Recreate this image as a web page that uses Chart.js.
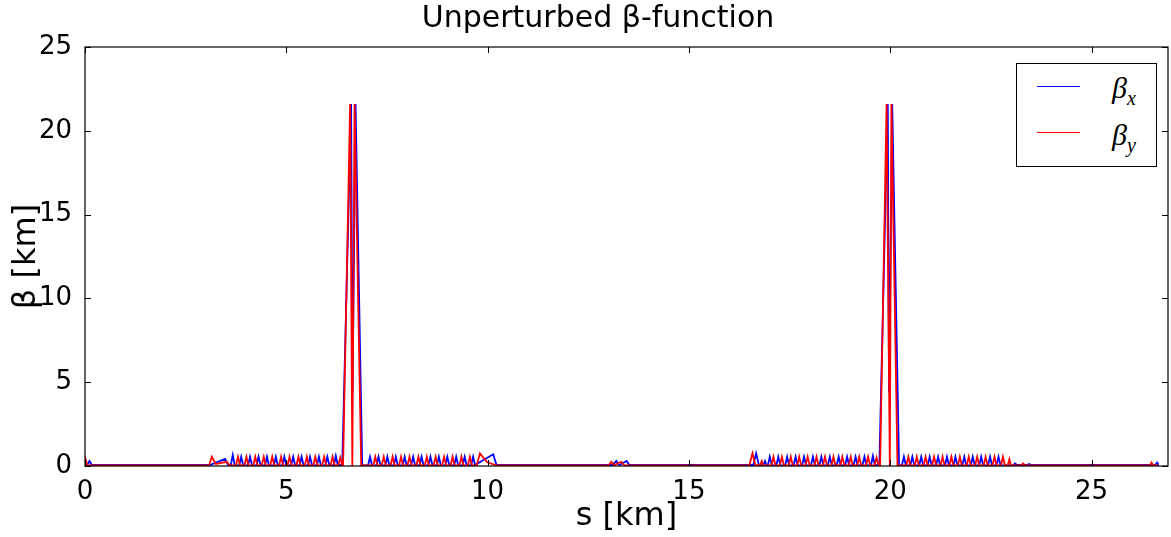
<!DOCTYPE html>
<html>
<head>
<meta charset="utf-8">
<title>Unperturbed beta-function</title>
<script src="https://cdn.jsdelivr.net/npm/chart.js@4.4.1/dist/chart.umd.min.js"></script>
<style>
  html, body { margin: 0; padding: 0; background: #fff; }
  #wrap { position: relative; width: 1171px; height: 537px; }
  #legend { position: absolute; left: 1016px; top: 63px; width: 141px; height: 104px;
            border: 1px solid #000; background: #fff; box-sizing: border-box; }
  .key { position: absolute; left: 20px; width: 43px; height: 0; border-top: 1.5px solid; }
  .lab { position: absolute; left: 95px; font: italic 30px "Liberation Serif", serif; line-height: 1; color: #000; }
  .lab sub { font-size: 20px; }
</style>
</head>
<body>
<div id="wrap">
  <canvas id="betaChart"></canvas>
  <div id="legend">
    <div class="key" style="top:22px; border-color:#0000ff"></div>
    <div class="lab" style="top:9px">β<sub>x</sub></div>
    <div class="key" style="top:68px; border-color:#ff0000"></div>
    <div class="lab" style="top:56px">β<sub>y</sub></div>
  </div>
</div>
<script>
// [s in km, beta in km]
const betaX = [
  [0, 0.1], [0.05, 0.04], [0.11, 0.3], [0.17, 0.06], [3.1, 0.06], [3.48, 0.42], [3.56, 0.03],
  [3.62, 0.03], [3.67, 0.65], [3.72, 0.03], [3.83, 0.03], [3.88, 0.55], [3.93, 0.03],
  [4.05, 0.03], [4.1, 0.55], [4.15, 0.03], [4.26, 0.03], [4.31, 0.55], [4.36, 0.03],
  [4.47, 0.03], [4.52, 0.55], [4.57, 0.03], [4.69, 0.03], [4.74, 0.55], [4.79, 0.03],
  [4.9, 0.03], [4.95, 0.55], [5.0, 0.03], [5.12, 0.03], [5.17, 0.55], [5.22, 0.03],
  [5.33, 0.03], [5.38, 0.55], [5.43, 0.03], [5.54, 0.03], [5.59, 0.55], [5.64, 0.03],
  [5.76, 0.03], [5.81, 0.55], [5.86, 0.03], [5.97, 0.03], [6.02, 0.55], [6.07, 0.03],
  [6.18, 0.03], [6.23, 0.6], [6.28, 0.03],
  [6.39, 0.1], [6.61, 21.6], [6.645, 4.4], [6.72, 21.6], [6.885, 0.05],
  [7.03, 0.03], [7.08, 0.55], [7.13, 0.03], [7.24, 0.03], [7.29, 0.55], [7.34, 0.03],
  [7.46, 0.03], [7.51, 0.55], [7.56, 0.03], [7.67, 0.03], [7.72, 0.55], [7.77, 0.03],
  [7.89, 0.03], [7.94, 0.55], [7.99, 0.03], [8.1, 0.03], [8.15, 0.55], [8.2, 0.03],
  [8.31, 0.03], [8.36, 0.55], [8.41, 0.03], [8.53, 0.03], [8.58, 0.55], [8.63, 0.03],
  [8.74, 0.03], [8.79, 0.55], [8.84, 0.03], [8.95, 0.03], [9.0, 0.55], [9.05, 0.03],
  [9.17, 0.03], [9.22, 0.55], [9.27, 0.03], [9.38, 0.03], [9.43, 0.55], [9.48, 0.03],
  [9.59, 0.03], [9.64, 0.55], [9.69, 0.03],
  [9.75, 0.15], [10.14, 0.7], [10.22, 0.06],
  [13.1, 0.06], [13.2, 0.3], [13.27, 0.05], [13.45, 0.3], [13.52, 0.06],
  [16.6, 0.06], [16.67, 0.76], [16.74, 0.05], [16.85, 0.05], [16.89, 0.3], [16.93, 0.03],
  [16.96, 0.03], [17.01, 0.55], [17.06, 0.03], [17.17, 0.03], [17.22, 0.55], [17.27, 0.03],
  [17.39, 0.03], [17.44, 0.55], [17.49, 0.03], [17.6, 0.03], [17.65, 0.55], [17.7, 0.03],
  [17.81, 0.03], [17.86, 0.55], [17.91, 0.03], [18.03, 0.03], [18.08, 0.55], [18.13, 0.03],
  [18.24, 0.03], [18.29, 0.55], [18.34, 0.03], [18.45, 0.03], [18.5, 0.55], [18.55, 0.03],
  [18.67, 0.03], [18.72, 0.55], [18.77, 0.03], [18.88, 0.03], [18.93, 0.55], [18.98, 0.03],
  [19.09, 0.03], [19.14, 0.55], [19.19, 0.03], [19.31, 0.03], [19.36, 0.55], [19.41, 0.03],
  [19.52, 0.03], [19.57, 0.6], [19.62, 0.03],
  [19.73, 0.1], [19.94, 21.6], [19.97, 4.4], [20.05, 21.6], [20.22, 0.05],
  [20.29, 0.03], [20.34, 0.55], [20.39, 0.03], [20.5, 0.03], [20.55, 0.55], [20.6, 0.03],
  [20.72, 0.03], [20.77, 0.55], [20.82, 0.03], [20.93, 0.03], [20.98, 0.55], [21.03, 0.03],
  [21.14, 0.03], [21.19, 0.55], [21.24, 0.03], [21.36, 0.03], [21.41, 0.55], [21.46, 0.03],
  [21.57, 0.03], [21.62, 0.55], [21.67, 0.03], [21.79, 0.03], [21.84, 0.55], [21.89, 0.03],
  [22.0, 0.03], [22.05, 0.55], [22.1, 0.03], [22.21, 0.03], [22.26, 0.55], [22.31, 0.03],
  [22.43, 0.03], [22.48, 0.55], [22.53, 0.03], [22.64, 0.03], [22.69, 0.55], [22.74, 0.03],
  [23.05, 0.03], [23.1, 0.15], [23.15, 0.06], [23.4, 0.06], [23.45, 0.12], [23.5, 0.06],
  [26.58, 0.06], [26.63, 0.2], [26.65, 0.1]
];

const betaY = [
  [0, 0.3], [0.02, 0.36], [0.06, 0.03], [3.08, 0.03], [3.15, 0.55], [3.25, 0.12], [3.52, 0.25], [3.6, 0.03],
  [3.75, 0.03], [3.8, 0.55], [3.85, 0.03], [3.96, 0.03], [4.01, 0.55], [4.06, 0.03],
  [4.18, 0.03], [4.23, 0.55], [4.28, 0.03], [4.39, 0.03], [4.44, 0.55], [4.49, 0.03],
  [4.6, 0.03], [4.65, 0.55], [4.7, 0.03], [4.82, 0.03], [4.87, 0.55], [4.92, 0.03],
  [5.03, 0.03], [5.08, 0.55], [5.13, 0.03], [5.25, 0.03], [5.3, 0.55], [5.35, 0.03],
  [5.46, 0.03], [5.51, 0.55], [5.56, 0.03], [5.67, 0.03], [5.72, 0.55], [5.77, 0.03],
  [5.89, 0.03], [5.94, 0.55], [5.99, 0.03], [6.1, 0.03], [6.15, 0.55], [6.2, 0.03],
  [6.29, 0.03], [6.34, 0.5], [6.39, 0.03],
  [6.41, 0.05], [6.585, 21.6], [6.64, 0], [6.695, 21.6], [6.86, 0.05],
  [7.16, 0.03], [7.21, 0.55], [7.26, 0.03], [7.37, 0.03], [7.42, 0.55], [7.47, 0.03],
  [7.59, 0.03], [7.64, 0.55], [7.69, 0.03], [7.8, 0.03], [7.85, 0.55], [7.9, 0.03],
  [8.01, 0.03], [8.06, 0.55], [8.11, 0.03], [8.23, 0.03], [8.28, 0.55], [8.33, 0.03],
  [8.44, 0.03], [8.49, 0.55], [8.54, 0.03], [8.66, 0.03], [8.71, 0.55], [8.76, 0.03],
  [8.87, 0.03], [8.92, 0.55], [8.97, 0.03], [9.08, 0.03], [9.13, 0.55], [9.18, 0.03],
  [9.3, 0.03], [9.35, 0.55], [9.4, 0.03], [9.51, 0.03], [9.56, 0.55], [9.61, 0.03],
  [9.73, 0.05], [9.81, 0.75], [9.99, 0.22], [10.23, 0.03],
  [13.0, 0.03], [13.07, 0.25], [13.15, 0.05], [13.32, 0.25], [13.4, 0.03],
  [16.5, 0.03], [16.58, 0.76], [16.65, 0.05], [16.77, 0.05], [16.81, 0.3], [16.85, 0.03],
  [17.05, 0.03], [17.1, 0.55], [17.15, 0.03], [17.26, 0.03], [17.31, 0.55], [17.36, 0.03],
  [17.48, 0.03], [17.53, 0.55], [17.58, 0.03], [17.69, 0.03], [17.74, 0.55], [17.79, 0.03],
  [17.9, 0.03], [17.95, 0.55], [18.0, 0.03], [18.12, 0.03], [18.17, 0.55], [18.22, 0.03],
  [18.33, 0.03], [18.38, 0.55], [18.43, 0.03], [18.54, 0.03], [18.59, 0.55], [18.64, 0.03],
  [18.76, 0.03], [18.81, 0.55], [18.86, 0.03], [18.97, 0.03], [19.02, 0.55], [19.07, 0.03],
  [19.18, 0.03], [19.23, 0.55], [19.28, 0.03], [19.4, 0.03], [19.45, 0.55], [19.5, 0.03],
  [19.61, 0.03], [19.66, 0.5], [19.71, 0.03],
  [19.75, 0.05], [19.91, 21.6], [19.99, 0], [20.03, 21.6], [20.18, 0.05],
  [20.4, 0.03], [20.45, 0.55], [20.5, 0.03], [20.61, 0.03], [20.66, 0.55], [20.71, 0.03],
  [20.83, 0.03], [20.88, 0.55], [20.93, 0.03], [21.04, 0.03], [21.09, 0.55], [21.14, 0.03],
  [21.25, 0.03], [21.3, 0.55], [21.35, 0.03], [21.47, 0.03], [21.52, 0.55], [21.57, 0.03],
  [21.68, 0.03], [21.73, 0.55], [21.78, 0.03], [21.9, 0.03], [21.95, 0.55], [22.0, 0.03],
  [22.11, 0.03], [22.16, 0.55], [22.21, 0.03], [22.32, 0.03], [22.37, 0.55], [22.42, 0.03],
  [22.54, 0.03], [22.59, 0.55], [22.64, 0.03], [22.75, 0.03], [22.8, 0.55], [22.85, 0.03],
  [22.92, 0.03], [22.96, 0.4], [23.0, 0.03], [23.25, 0.03], [23.3, 0.15], [23.35, 0.03],
  [26.45, 0.03], [26.49, 0.2], [26.53, 0.03], [26.65, 0.05]
];

const sTicks = [0, 5, 10, 15, 20, 25];
const betaTicks = [0, 5, 10, 15, 20, 25];

Chart.defaults.font.family = "'DejaVu Sans', sans-serif";
Chart.defaults.color = "#000";

// matplotlib style frame with inward ticks on all four sides
const frame = {
  id: "frame",
  afterDatasetsDraw(chart) {
    const { ctx, chartArea: a, scales: { x, y } } = chart;
    ctx.save();
    ctx.strokeStyle = "#000";
    ctx.lineWidth = 1;
    ctx.beginPath();
    x.ticks.forEach((t) => {
      const px = Math.round(x.getPixelForValue(t.value)) + 0.5;
      ctx.moveTo(px, a.bottom); ctx.lineTo(px, a.bottom - 6);
      ctx.moveTo(px, a.top); ctx.lineTo(px, a.top + 6);
    });
    y.ticks.forEach((t) => {
      const py = Math.round(y.getPixelForValue(t.value)) + 0.5;
      ctx.moveTo(a.left, py); ctx.lineTo(a.left + 6, py);
      ctx.moveTo(a.right, py); ctx.lineTo(a.right - 6, py);
    });
    ctx.stroke();
    ctx.lineWidth = 1.2;
    ctx.strokeRect(a.left, a.top, a.right - a.left, a.bottom - a.top);
    ctx.restore();
  },
};

const ctx = document.getElementById("betaChart").getContext("2d");
new Chart(ctx, {
  type: "line",
  data: {
    datasets: [
      {
        label: "βx",
        data: betaX.map(([s, b]) => ({ x: s, y: b })),
        borderColor: "#0000ff",
        borderWidth: 1.8,
        pointRadius: 0,
        tension: 0,
        order: 1,
      },
      {
        label: "βy",
        data: betaY.map(([s, b]) => ({ x: s, y: b })),
        borderColor: "#ff0000",
        borderWidth: 1.8,
        pointRadius: 0,
        tension: 0,
        order: 0,
      },
    ],
  },
  options: {
    responsive: true,
    maintainAspectRatio: false,
    animation: false,
    layout: { padding: { left: 28, right: 3, top: 0, bottom: 0 } },
    plugins: {
      legend: { display: false },
      tooltip: { enabled: false },
      title: {
        display: true,
        text: "Unperturbed β-function",
        font: { size: 30, weight: "normal" },
        padding: { top: 1, bottom: 10 },
      },
    },
    scales: {
      x: {
        type: "linear",
        min: 0,
        max: 26.9,
        afterBuildTicks: (scale) => { scale.ticks = sTicks.map((v) => ({ value: v })); },
        afterFit: (scale) => { scale.height = 71; },
        grid: { display: false },
        border: { display: false },
        ticks: { font: { size: 26 }, padding: 3, maxRotation: 0 },
        title: { display: true, text: "s [km]", font: { size: 32 }, padding: { top: 0, bottom: 1 } },
      },
      y: {
        min: 0,
        max: 25,
        afterBuildTicks: (scale) => { scale.ticks = betaTicks.map((v) => ({ value: v })); },
        afterFit: (scale) => { scale.width = 57; },
        grid: { display: false },
        border: { display: false },
        ticks: { font: { size: 26 }, padding: 5 },
        title: { display: true, text: "β [km]", font: { size: 32 }, padding: { top: -21, bottom: 0 } },
      },
    },
  },
  plugins: [frame],
});
</script>
</body>
</html>
